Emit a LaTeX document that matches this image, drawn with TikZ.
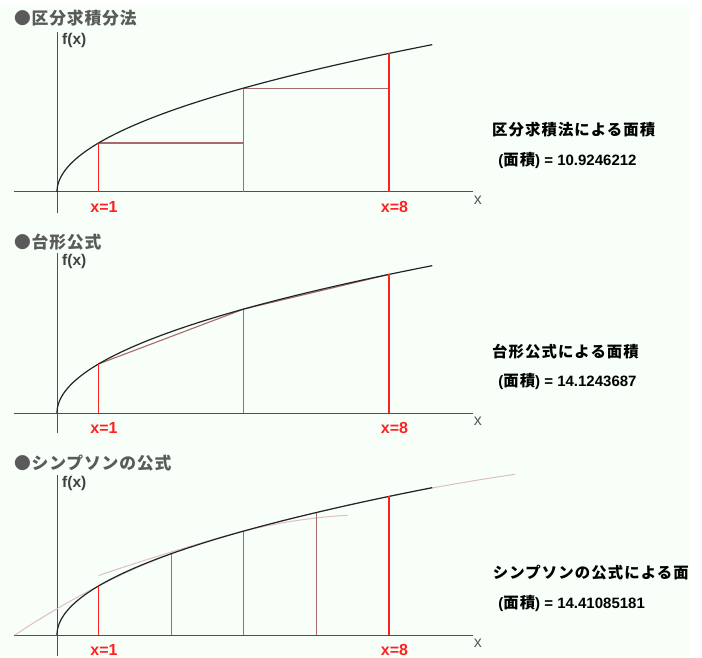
\documentclass[tikz,border=0pt]{standalone}
\usepackage{fontspec}
\setmainfont{Liberation Sans}
\newfontfamily\jp{Noto Sans CJK JP}[LetterSpace=7]
\newfontfamily\jpt{Noto Sans CJK JP}[LetterSpace=5]
\definecolor{bgtint}{RGB}{247,255,248}
\definecolor{axiscol}{RGB}{80,80,80}
\definecolor{curvecol}{RGB}{36,36,40}
\definecolor{redcol}{RGB}{255,34,34}
\definecolor{browncol}{RGB}{168,106,106}
\definecolor{pinkcol}{RGB}{222,190,198}
\definecolor{titlecol}{RGB}{90,90,90}
\definecolor{fxcol}{RGB}{64,64,64}
\tikzset{
  axisline/.style={draw=axiscol, line width=1pt},
  curveline/.style={draw=curvecol, line width=1.2pt},
  redline/.style={draw=redcol, line width=1.9pt},
  brownline/.style={draw=browncol, line width=1.1pt},
  pinkline/.style={draw=pinkcol, line width=1pt},
  titletext/.style={inner sep=0pt, anchor=west, text=titlecol, font=\fontsize{16.8}{17}\selectfont\jpt\bfseries},
  fxtext/.style={inner sep=0pt, anchor=west, text=fxcol, font=\fontsize{15.5}{15.5}\selectfont\bfseries},
  xtext/.style={inner sep=0pt, text=titlecol, font=\fontsize{16}{16}\selectfont},
  redtext/.style={inner sep=0pt, anchor=west, text=redcol, font=\fontsize{16}{16}\selectfont\bfseries},
  areatext/.style={inner sep=0pt, anchor=west, text=black, font=\fontsize{15}{15}\selectfont\bfseries},
}
\newcommand{\jpb}[1]{{\fontsize{15.4}{16}\selectfont\jp\bfseries #1}}
\begin{document}
\begin{tikzpicture}[x=1pt,y=1pt]
\useasboundingbox (0,0) rectangle (702,-658);
\fill[bgtint] (0,-5) rectangle (690,-658);

% ---------- panel 1 ----------
\begin{scope}[shift={(57,-192)}, x=41.5pt, y=49pt]
  \node[titletext] (t1) at (-1.04,3.55) {●区分求積分法};
  \draw[axisline] (0,-0.43) -- (0,3.27);
  \draw[axisline] (-1.04,0) -- (10.02,0);
  \node[xtext] (xl1) at (10.14,-0.16) {x};
  \node[fxtext] (fx1) at (0.12,3.1) {f(x)};
  \draw[brownline] (1,1) -- (4.5,1);
  \draw[brownline] (4.5,0) -- (4.5,2.1213) -- (8,2.1213);
  \draw[curveline] plot[domain=0:3.008, samples=120] ({\x*\x},\x);
  \draw[redline] (1,0) -- (1,1);
  \draw[redline] (8,0) -- (8,2.8284);
  \node[redtext] (a1) at (0.8,-0.31) {x=1};
  \node[redtext] (b1) at (7.8,-0.31) {x=8};
  \node[areatext] (r1) at (10.48,1.27) {\jpb{区分求積法による面積}};
  \node[areatext] (s1) at (10.63,0.65) {(\jpb{面積}) = 10.9246212};
\end{scope}

% ---------- panel 2 ----------
\begin{scope}[shift={(57,-413)}, x=41.5pt, y=49pt]
  \node[titletext] (t2) at (-1.04,3.49) {●台形公式};
  \draw[axisline] (0,-0.41) -- (0,3.27);
  \draw[axisline] (-1.04,0) -- (10.02,0);
  \node[xtext] (xl2) at (10.14,-0.16) {x};
  \node[fxtext] (fx2) at (0.12,3.1) {f(x)};
  \draw[brownline] (1,1) -- (4.5,2.1213) -- (8,2.8284);
  \draw[brownline] (4.5,0) -- (4.5,2.1213);
  \draw[curveline] plot[domain=0:3.008, samples=120] ({\x*\x},\x);
  \draw[redline] (1,0) -- (1,1);
  \draw[redline] (8,0) -- (8,2.8284);
  \node[redtext] (a2) at (0.8,-0.31) {x=1};
  \node[redtext] (b2) at (7.8,-0.31) {x=8};
  \node[areatext] (r2) at (10.48,1.25) {\jpb{台形公式による面積}};
  \node[areatext] (s2) at (10.63,0.65) {(\jpb{面積}) = 14.1243687};
\end{scope}

% ---------- panel 3 ----------
\begin{scope}[shift={(57,-635)}, x=41.5pt, y=49pt]
  \node[titletext] (t3) at (-1.04,3.51) {●シンプソンの公式};
  \draw[axisline] (0,-0.43) -- (0,3.27);
  \draw[axisline] (-1.04,0) -- (10.02,0);
  \node[xtext] (xl3) at (10.14,-0.16) {x};
  \node[fxtext] (fx3) at (0.12,3.1) {f(x)};
  \draw[pinkline] plot[domain=-1.016:7, samples=60]
     (\x,{1.6583+0.32037*(\x-2.75)-0.031886*(\x-2.75)*(\x-2.75)});
  \draw[pinkline] plot[domain=1:11.04, samples=60]
     (\x,{2.5+0.20203*(\x-6.25)-0.008212*(\x-6.25)*(\x-6.25)});
  \draw[brownline] (2.75,0) -- (2.75,1.6583);
  \draw[brownline] (4.5,0) -- (4.5,2.1213);
  \draw[brownline] (6.25,0) -- (6.25,2.5);
  \draw[curveline] plot[domain=0:3.008, samples=120] ({\x*\x},\x);
  \draw[redline] (1,0) -- (1,1);
  \draw[redline] (8,0) -- (8,2.8284);
  \node[redtext] (a3) at (0.8,-0.31) {x=1};
  \node[redtext] (b3) at (7.8,-0.31) {x=8};
  \node[areatext] (r3) at (10.5,1.27) {\jpb{シンプソンの公式による面}};
  \node[areatext] (s3) at (10.63,0.65) {(\jpb{面積}) = 14.41085181};
\end{scope}
\end{tikzpicture}
\end{document}
